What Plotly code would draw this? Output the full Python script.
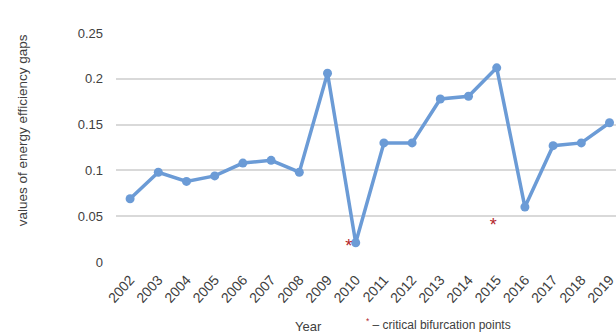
import plotly.graph_objects as go

years = [str(y) for y in range(2002, 2020)]
gap_values = [0.069, 0.098, 0.088, 0.094, 0.108, 0.111, 0.098, 0.206, 0.021,
              0.130, 0.130, 0.178, 0.181, 0.212, 0.060, 0.127, 0.130, 0.152]
critical_years = ["2010", "2015"]
critical_values = [0.016, 0.039]
critical_offsets = [-0.25, -0.12]

idx = list(range(len(years)))
crit_idx = [years.index(y) + o for y, o in zip(critical_years, critical_offsets)]

line_color = "#6B9BD6"
star_color = "#B3262B"
font_family = "Liberation Sans, Arial, sans-serif"

fig = go.Figure()
fig.add_trace(go.Scatter(
    x=idx, y=gap_values, mode="lines+markers",
    line=dict(color=line_color, width=3.5),
    marker=dict(color=line_color, size=9),
    showlegend=False,
))
fig.add_trace(go.Scatter(
    x=crit_idx, y=critical_values, mode="text", text=["*"] * len(crit_idx),
    textfont=dict(color=star_color, size=18, family=font_family),
    textposition="middle center", showlegend=False,
))

fig.update_layout(
    width=616, height=336,
    margin=dict(l=116, r=0, t=33, b=74),
    paper_bgcolor="white", plot_bgcolor="white",
    font=dict(family=font_family, color="#404040"),
    xaxis=dict(
        range=[-0.5, 17.23], tickmode="array", tickvals=idx, ticktext=years,
        tickangle=-48, showgrid=False, zeroline=False, showline=False,
        tickfont=dict(size=14, color="#404040"), ticks="",
        ticklabelstandoff=6, ticklabeloverflow="allow",
    ),
    yaxis=dict(
        range=[0, 0.25], tickvals=[0, 0.05, 0.1, 0.15, 0.2, 0.25],
        ticktext=["0", "0.05", "0.1", "0.15", "0.2", "0.25"],
        showgrid=True, gridcolor="#D9D9D9", gridwidth=1.5, zeroline=False,
        showline=False, tickfont=dict(size=13, color="#404040"),
        ticklabelstandoff=12,
    ),
    annotations=[
        dict(text="values of energy efficiency gaps", textangle=-90,
             xref="paper", yref="paper", x=-0.188, y=0.575,
             xanchor="center", yanchor="middle",
             showarrow=False, font=dict(size=13.5, color="#404040")),
        dict(text="Year", xref="paper", yref="paper", x=0.384, y=-0.28,
             xanchor="center", yanchor="middle",
             showarrow=False, font=dict(size=13, color="#404040")),
        dict(text="<span style='color:%s'><sup>*</sup></span> – critical bifurcation points" % star_color,
             xref="paper", yref="paper", x=0.645, y=-0.27,
             xanchor="center", yanchor="middle",
             showarrow=False, font=dict(size=12, color="#404040")),
    ],
)

fig.write_html("out.html", config={"displayModeBar": False},
               post_script="document.body.style.margin='0';document.body.style.overflow='hidden';")
